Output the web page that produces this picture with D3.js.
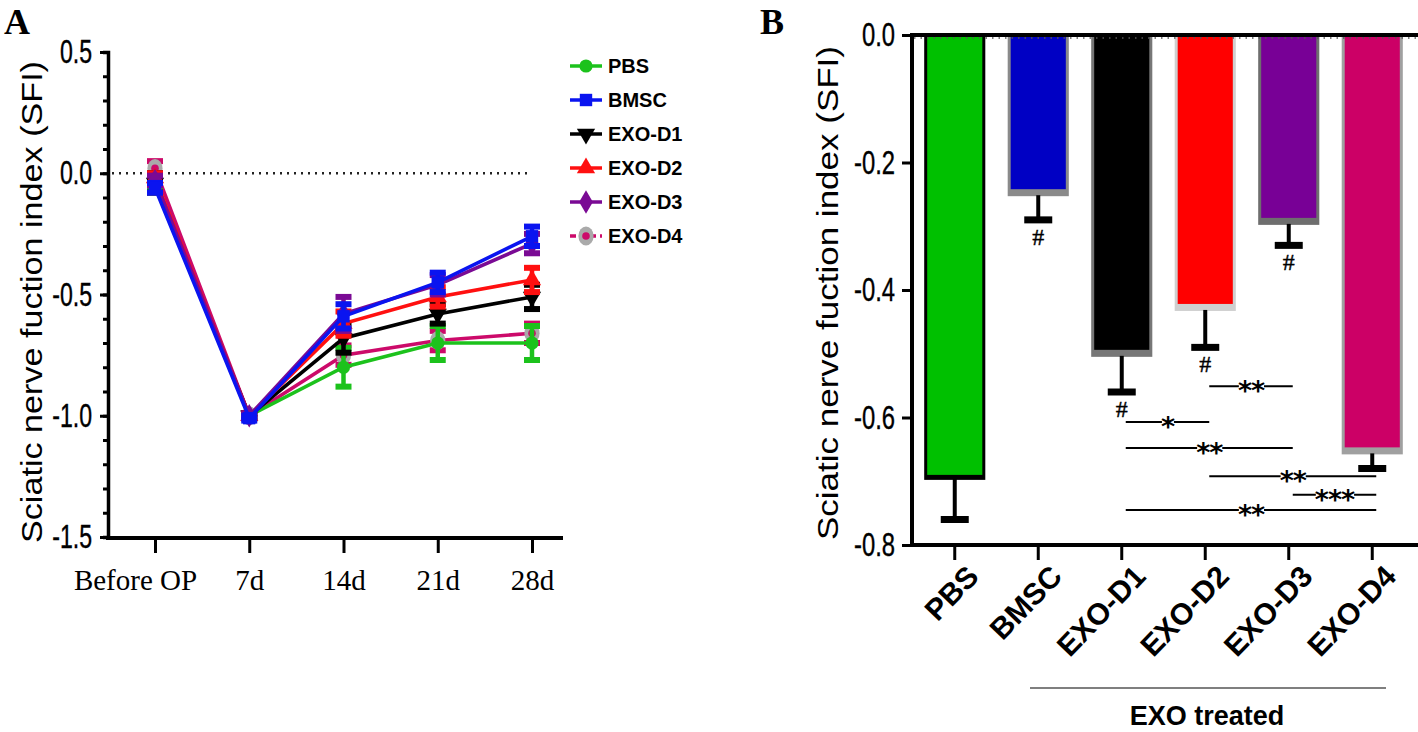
<!DOCTYPE html>
<html><head><meta charset="utf-8">
<script src="https://cdn.jsdelivr.net/npm/d3@7"></script>
<style>
body{margin:0;background:#fff;}
svg{display:block;}
</style></head>
<body>
<svg id="chart" width="1418" height="732"></svg>
<script>
// ---------- DATA ----------
const timepoints = ["Before OP", "7d", "14d", "21d", "28d"];
const seriesNames = ["PBS", "BMSC", "EXO-D1", "EXO-D2", "EXO-D3", "EXO-D4"];
const pbsLine   = [-0.05, -1.00, -0.80, -0.70, -0.70];
const bmscLine  = [-0.06, -1.01, -0.59, -0.45, -0.26];
const d1Line    = [-0.04, -1.00, -0.68, -0.58, -0.51];
const d2Line    = [-0.02, -1.00, -0.62, -0.51, -0.44];
const d3Line    = [-0.03, -1.00, -0.58, -0.46, -0.29];
const d4Line    = [ 0.02, -1.00, -0.75, -0.69, -0.66];
const pbsErr  = [0.02, 0.01, 0.08, 0.07, 0.07];
const bmscErr = [0.02, 0.01, 0.05, 0.04, 0.04];
const d1Err   = [0.04, 0.01, 0.06, 0.04, 0.05];
const d2Err   = [0.02, 0.01, 0.05, 0.04, 0.05];
const d3Err   = [0.02, 0.01, 0.07, 0.04, 0.04];
const d4Err   = [0.03, 0.01, 0.04, 0.04, 0.04];
const yTicksA = [0.5, 0.0, -0.5, -1.0, -1.5];

const groups    = ["PBS", "BMSC", "EXO-D1", "EXO-D2", "EXO-D3", "EXO-D4"];
const barMeans  = [-0.69, -0.245, -0.497, -0.425, -0.29, -0.65];
const barErrs   = [0.07, 0.045, 0.063, 0.065, 0.04, 0.03];
const hashMarks = [false, true, true, true, true, false];
const yTicksB   = [0.0, -0.2, -0.4, -0.6, -0.8];
const sigFrom   = ["EXO-D2", "EXO-D1", "EXO-D1", "EXO-D2", "EXO-D3", "EXO-D1"];
const sigTo     = ["EXO-D3", "EXO-D2", "EXO-D3", "EXO-D4", "EXO-D4", "EXO-D4"];
const sigY      = [-0.551, -0.607, -0.648, -0.692, -0.721, -0.745];
const sigLabel  = ["**", "*", "**", "**", "***", "**"];

// ---------- STYLES ----------
const lineColors = ["#1cc21c", "#0a14f0", "#000000", "#ff1010", "#7a0a94", "#cc0a6a"];
const barColors  = ["#00c000", "#0000c4", "#000000", "#ff0000", "#780096", "#cc0066"];
const barRims    = ["#000000", "#8a8a8a", "#777777", "#cfcfcf", "#6e6e6e", "#a0a0a0"];
const lineSeries = [pbsLine, bmscLine, d1Line, d2Line, d3Line, d4Line];
const errSeries  = [pbsErr, bmscErr, d1Err, d2Err, d3Err, d4Err];
const SANS = "Liberation Sans, Arial, sans-serif";

const svg = d3.select("#chart");

function narrowTicks(sel, size, factor) {
  sel.attr("font-family", SANS).attr("font-size", size).attr("fill", "#000")
    .attr("stroke", "#000").attr("stroke-width", 0.4)
    .text(d => d3.format(".1f")(d).replace("−", "-"))
    .each(function () {
      const L = this.getComputedTextLength();
      d3.select(this).attr("textLength", L * factor).attr("lengthAdjust", "spacingAndGlyphs");
    });
}

// =============== PANEL A ===============
const xA = d3.scalePoint().domain(timepoints).range([155, 532]);
const yA = d3.scaleLinear().domain([-1.5, 0.5]).range([537, 52]);
const gA = svg.append("g");

gA.append("text").attr("x", 4).attr("y", 34).text("A")
  .attr("font-family", "Liberation Serif, serif").attr("font-weight", "bold").attr("font-size", 36);

const axA = gA.append("g").attr("transform", "translate(108,0)")
  .call(d3.axisLeft(yA).tickValues(d3.range(-15, 6).map(d => d / 10)).tickSize(5).tickFormat(""));
axA.select(".domain").attr("stroke-width", 3.5);
axA.selectAll(".tick line").attr("stroke-width", 3);
const axA2 = gA.append("g").attr("transform", "translate(108,0)")
  .call(d3.axisLeft(yA).tickValues(yTicksA).tickSize(8).tickPadding(8));
axA2.select(".domain").remove();
axA2.selectAll(".tick line").attr("stroke-width", 3);
narrowTicks(axA2.selectAll(".tick text"), 33, 0.7);

const axAx = gA.append("g").attr("transform", "translate(0,538)")
  .call(d3.axisBottom(xA).tickSize(15).tickPadding(16));
axAx.select(".domain").attr("d", "M106,0H563").attr("stroke-width", 4);
axAx.selectAll(".tick line").attr("stroke-width", 3);
axAx.selectAll(".tick text").attr("font-family", "Liberation Serif, DejaVu Serif, serif")
  .attr("font-size", 29).attr("fill", "#000")
  .attr("dx", d => d === "Before OP" ? -20 : 0);

gA.append("line").attr("x1", 112).attr("x2", 528).attr("y1", yA(0)).attr("y2", yA(0))
  .attr("stroke", "#222").attr("stroke-width", 2.4).attr("stroke-dasharray", "2,5");

function symbolFor(i) {
  return [d3.symbolCircle, d3.symbolSquare, d3.symbolTriangle, d3.symbolTriangle, d3.symbolDiamond, d3.symbolCircle][i];
}
function drawMarker(g, i, x, y, scale) {
  const s = scale || 1;
  if (i === 5) {
    g.append("ellipse").attr("cx", x).attr("cy", y).attr("rx", 8 * s).attr("ry", 10 * s).attr("fill", "#aaaaaa");
    g.append("circle").attr("cx", x).attr("cy", y).attr("r", 4 * s).attr("fill", lineColors[5]);
    return;
  }
  const sizes = [150, 170, 160, 160, 180];
  g.append("path").attr("d", d3.symbol().type(symbolFor(i)).size(sizes[i] * s * s))
    .attr("transform", `translate(${x},${y})` + (i === 2 ? " rotate(180)" : ""))
    .attr("fill", lineColors[i]);
}

const drawOrder = [5, 0, 2, 3, 4, 1];
const lineGen = d3.line().x((d, j) => xA(timepoints[j])).y(d => yA(d));
drawOrder.forEach(i => {
  const g = gA.append("g");
  lineSeries[i].forEach((v, j) => {
    const x = xA(timepoints[j]), e = errSeries[i][j];
    g.append("line").attr("x1", x).attr("x2", x).attr("y1", yA(v + e)).attr("y2", yA(v - e))
      .attr("stroke", lineColors[i]).attr("stroke-width", 4.5);
    [v + e, v - e].forEach(c => g.append("line").attr("x1", x - 8).attr("x2", x + 8)
      .attr("y1", yA(c)).attr("y2", yA(c)).attr("stroke", lineColors[i]).attr("stroke-width", 6));
  });
  g.append("path").datum(lineSeries[i]).attr("d", lineGen).attr("fill", "none")
    .attr("stroke", lineColors[i]).attr("stroke-width", 3.6);
  lineSeries[i].forEach((v, j) => drawMarker(g, i, xA(timepoints[j]), yA(v), 0.95));
});

const legY0 = 66, legStep = 34;
seriesNames.forEach((name, i) => {
  const y = legY0 + i * legStep;
  const g = gA.append("g");
  g.append("line").attr("x1", 570).attr("x2", 602).attr("y1", y).attr("y2", y)
    .attr("stroke", lineColors[i]).attr("stroke-width", 3.5)
    .attr("stroke-dasharray", i === 5 ? "6,4" : null);
  drawMarker(g, i, 586, y, 0.95);
  g.append("text").attr("x", 608).attr("y", y + 7).text(name)
    .attr("font-family", SANS).attr("font-weight", "bold").attr("font-size", 20);
});

gA.append("text").attr("transform", "translate(42,302) rotate(-90)").attr("text-anchor", "middle")
  .attr("font-family", SANS).attr("font-size", 30)
  .attr("textLength", 482).attr("lengthAdjust", "spacingAndGlyphs")
  .text("Sciatic nerve fuction index (SFI)");

// =============== PANEL B ===============
const xB = d3.scaleBand().domain(groups).range([913, 1414]).paddingInner(0.34).paddingOuter(0.17);
const yB = d3.scaleLinear().domain([-0.8, 0]).range([545, 35]);
const gB = svg.append("g");

gB.append("text").attr("x", 760).attr("y", 34).text("B")
  .attr("font-family", "Liberation Serif, serif").attr("font-weight", "bold").attr("font-size", 36);

groups.forEach((grp, i) => {
  const x = xB(grp), w = xB.bandwidth(), y0 = yB(0), y1 = yB(barMeans[i]);
  gB.append("rect").attr("x", x - 3).attr("y", y0).attr("width", w + 6).attr("height", y1 - y0 + 5)
    .attr("fill", barRims[i]);
  gB.append("rect").attr("x", x).attr("y", y0).attr("width", w).attr("height", y1 - y0 - (i === 0 ? 0 : 2))
    .attr("fill", barColors[i]);
  const cx = x + w / 2, yb = yB(barMeans[i] - barErrs[i]);
  gB.append("line").attr("x1", cx).attr("x2", cx).attr("y1", y1 + 4).attr("y2", yb)
    .attr("stroke", "#000").attr("stroke-width", 4);
  gB.append("line").attr("x1", cx - 14).attr("x2", cx + 14).attr("y1", yb).attr("y2", yb)
    .attr("stroke", "#000").attr("stroke-width", 7);
  if (hashMarks[i]) {
    gB.append("text").attr("x", cx).attr("y", yb + 25).attr("text-anchor", "middle")
      .attr("font-family", "Liberation Serif, serif").attr("font-size", 24)
      .attr("stroke", "#000").attr("stroke-width", 0.4).text("#");
  }
});

const ayB = gB.append("g").attr("transform", "translate(912,0)")
  .call(d3.axisLeft(yB).tickValues(yTicksB).tickSize(10).tickPadding(7));
ayB.select(".domain").attr("d", "M0,33V547").attr("stroke-width", 4);
ayB.selectAll(".tick line").attr("stroke-width", 3);
narrowTicks(ayB.selectAll(".tick text"), 34, 0.7);

gB.append("line").attr("x1", 910).attr("x2", 1418).attr("y1", yB(0)).attr("y2", yB(0))
  .attr("stroke", "#000").attr("stroke-width", 4);
gB.append("line").attr("x1", 914).attr("x2", 1418).attr("y1", yB(0) + 3).attr("y2", yB(0) + 3)
  .attr("stroke", "#555").attr("stroke-width", 1.5).attr("stroke-dasharray", "1.5,5");

const axBx = gB.append("g").attr("transform", "translate(0,545)")
  .call(d3.axisBottom(xB).tickSize(15).tickFormat(""));
axBx.select(".domain").attr("d", "M910,0H1418").attr("stroke-width", 4);
axBx.selectAll(".tick line").attr("stroke-width", 3);

groups.forEach(grp => {
  const cx = xB(grp) + xB.bandwidth() / 2;
  gB.append("text").attr("transform", `translate(${cx + 10},563) rotate(-46)`)
    .attr("text-anchor", "end").attr("dy", "0.72em")
    .attr("font-family", SANS).attr("font-weight", "bold")
    .attr("font-size", 30).text(grp);
});

sigLabel.forEach((lab, k) => {
  const g = gB.append("g");
  const xa = xB(sigFrom[k]) + xB.bandwidth() / 2 + 4;
  const xb = xB(sigTo[k]) + xB.bandwidth() / 2 + 4;
  const y = yB(sigY[k]), xm = (xa + xb) / 2;
  g.append("line").attr("x1", xa).attr("x2", xb).attr("y1", y).attr("y2", y)
    .attr("stroke", "#000").attr("stroke-width", 2);
  const t = g.append("text").attr("x", xm).attr("y", y).attr("text-anchor", "middle")
    .attr("font-family", "DejaVu Sans, sans-serif").attr("font-weight", "bold")
    .attr("font-size", 27).attr("letter-spacing", -1).text(lab);
  const bb0 = t.node().getBBox();
  const asc = y - bb0.y;
  t.attr("y", y + asc * 0.56);
  const bb = t.node().getBBox();
  g.insert("rect", "text").attr("x", bb.x + 1).attr("y", y - 2).attr("width", bb.width - 2).attr("height", 4).attr("fill", "#fff");
});

gB.append("line").attr("x1", 1030).attr("x2", 1386).attr("y1", 688).attr("y2", 688)
  .attr("stroke", "#555").attr("stroke-width", 1.6);
gB.append("text").attr("x", 1207).attr("y", 725).attr("text-anchor", "middle")
  .attr("font-family", SANS).attr("font-weight", "bold")
  .attr("font-size", 27).text("EXO treated");

gB.append("text").attr("transform", "translate(838,293) rotate(-90)").attr("text-anchor", "middle")
  .attr("font-family", SANS).attr("font-size", 30)
  .attr("textLength", 494).attr("lengthAdjust", "spacingAndGlyphs")
  .text("Sciatic nerve fuction index (SFI)");
</script>
</body></html>
